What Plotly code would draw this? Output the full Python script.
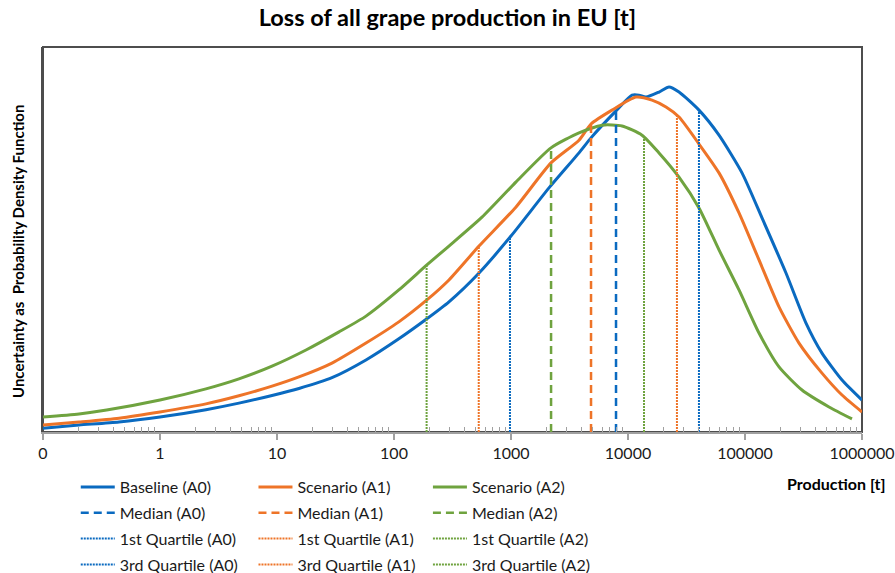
import numpy as np
import plotly.graph_objects as go

# Probability density of the annual loss of grape production (EU), log-scaled x
baseline_x = [0.1, 0.203, 0.446, 1, 2.47, 4.73, 9.07, 15.4, 29.5, 57.6, 110, 191, 295, 533,
              1000, 2112, 3813, 4829, 7897, 10820, 12417, 14250, 18408, 22409, 27290, 40446,
              59948, 94280, 139750, 224000, 332200, 455000, 674700, 1000000]
baseline_y = [0.010, 0.018, 0.026, 0.039, 0.058, 0.075, 0.095, 0.113, 0.141, 0.187, 0.242, 0.294,
              0.338, 0.413, 0.509, 0.634, 0.725, 0.764, 0.834, 0.875, 0.875, 0.870, 0.883, 0.896,
              0.883, 0.836, 0.771, 0.673, 0.556, 0.413, 0.283, 0.205, 0.135, 0.083]

scen1_x = [0.1, 0.203, 0.446, 1, 2.47, 4.73, 9.07, 15.4, 29.5, 57.6, 110, 191, 295, 533, 1100,
           2197, 3813, 4829, 7299, 11705, 16040, 21130, 27290, 40446, 59948, 88860, 131740,
           195300, 289400, 455000, 674700, 1000000]
scen1_y = [0.018, 0.026, 0.036, 0.052, 0.073, 0.094, 0.119, 0.143, 0.179, 0.231, 0.286, 0.343,
           0.395, 0.483, 0.584, 0.699, 0.758, 0.800, 0.836, 0.870, 0.862, 0.844, 0.818, 0.748,
           0.673, 0.569, 0.447, 0.325, 0.231, 0.153, 0.096, 0.052]

scen2_x = [0.1, 0.203, 0.35, 1, 2.47, 4.73, 9.07, 17.7, 33.9, 57.6, 110, 191, 295, 565, 1100,
           2197, 3813, 5995, 8888, 13174, 18408, 27290, 40446, 59948, 88860, 131740, 195300,
           307000, 522400, 821400]
scen2_y = [0.039, 0.047, 0.057, 0.083, 0.112, 0.138, 0.171, 0.213, 0.260, 0.301, 0.369, 0.434,
           0.483, 0.558, 0.649, 0.738, 0.777, 0.797, 0.795, 0.771, 0.725, 0.662, 0.582, 0.473,
           0.369, 0.257, 0.169, 0.109, 0.065, 0.034]

# Quartiles and medians of each distribution [t]
first_quartile = [980, 530, 190]
median = [7900, 4830, 2200]
third_quartile = [40400, 26200, 13700]

series_names = ["Baseline (A0)", "Scenario (A1)", "Scenario (A2)"]
tags = ["A0", "A1", "A2"]
colors = ["#0A6AC0", "#EE7428", "#6FA33F"]

tick_values = [0.1, 1, 10, 100, 1000, 10000, 100000, 1000000]
tick_labels = ["0", "1", "10", "100", "1000", "10000", "100000", "1000000"]

curves = [(baseline_x, baseline_y), (scen1_x, scen1_y), (scen2_x, scen2_y)]
legend_ids = ["legend", "legend2", "legend3"]

fig = go.Figure()

def density_at(xs, ys, value):
    return float(np.interp(np.log10(value), np.log10(xs), ys))

for i, (xs, ys) in enumerate(curves):
    fig.add_trace(go.Scatter(
        x=xs, y=ys, mode="lines", name=series_names[i],
        line=dict(color=colors[i], width=3, shape="spline", smoothing=0.6),
        legend=legend_ids[i], legendgroup=f"c{i}", legendrank=1))

markers = [
    ("Median", median, "8px,5px", 2.5, 2),
    ("1st Quartile", first_quartile, "2px,1px", 2, 3),
    ("3rd Quartile", third_quartile, "2px,1px", 2, 4),
]
for label, values, dash, width, rank in markers:
    for i, (xs, ys) in enumerate(curves):
        v = values[i]
        h = density_at(xs, ys, v)
        fig.add_trace(go.Scatter(
            x=[v, v], y=[0, h], mode="lines", name=f"{label} ({tags[i]})",
            line=dict(color=colors[i], width=width, dash=dash),
            legend=legend_ids[i], legendgroup=f"{label}{i}", legendrank=rank))

# minor ticks at 2..9 within each decade
minor_vals = [k * 10.0 ** d for d in range(-1, 6) for k in range(2, 10)]

font_family = "Lato, Open Sans, sans-serif"

legend_common = dict(
    orientation="v", yanchor="top", xanchor="left", y=-0.099,
    font=dict(family=font_family, size=16, color="#1a1a1a"),
    bgcolor="rgba(0,0,0,0)", itemwidth=34, tracegroupgap=2,
    traceorder="grouped")

fig.update_layout(
    width=895, height=573,
    margin=dict(l=43, r=33, t=47, b=141, autoexpand=False),
    paper_bgcolor="white", plot_bgcolor="white",
    title=dict(text="<b>Loss of all grape production in EU [t]</b>",
               x=0.5, xanchor="center", y=1 - 18 / 573, yanchor="middle", yref="container",
               font=dict(family=font_family, size=23.5, color="#000000")),
    xaxis=dict(
        type="log", range=[-1, 6],
        tickmode="array", tickvals=tick_values, ticktext=tick_labels,
        ticks="outside", ticklen=6, tickwidth=1.5, tickcolor="#A0A0A0",
        ticklabeloverflow="allow",
        showgrid=False, zeroline=False,
        showline=True, linecolor="#A0A0A0", linewidth=2,
        tickfont=dict(family=font_family, size=16, color="#1a1a1a"),
        minor=dict(tickmode="array", tickvals=minor_vals, ticks="inside", ticklen=5,
                   tickwidth=1, tickcolor="#A0A0A0", showgrid=False),
    ),
    yaxis=dict(
        range=[0, 1.0], showticklabels=False, ticks="",
        showgrid=False, zeroline=False,
        showline=True, linecolor="#4D4D4D", linewidth=2,
    ),
    legend=dict(x=0.040, **legend_common),
    legend2=dict(x=0.257, **legend_common),
    legend3=dict(x=0.470, **legend_common),
    shapes=[dict(type="rect", xref="paper", yref="paper", x0=0, x1=1, y0=0, y1=1,
                 line=dict(color="#4D4D4D", width=2), layer="below")],
    annotations=[
        dict(text="<b>Production [t]</b>", xref="paper", yref="paper",
             x=(888 - 43) / 819, y=-0.133, xanchor="right", yanchor="middle",
             showarrow=False, font=dict(family=font_family, size=16, color="#000000")),
        dict(text="<b>Uncertainty as \u00a0Probability Density Function</b>",
             xref="paper", yref="paper", x=-25 / 819, y=(432 - 252) / 385,
             xanchor="center", yanchor="middle", textangle=-90, showarrow=False,
             font=dict(family=font_family, size=15, color="#000000")),
    ],
)

fig.write_html("out.html")
